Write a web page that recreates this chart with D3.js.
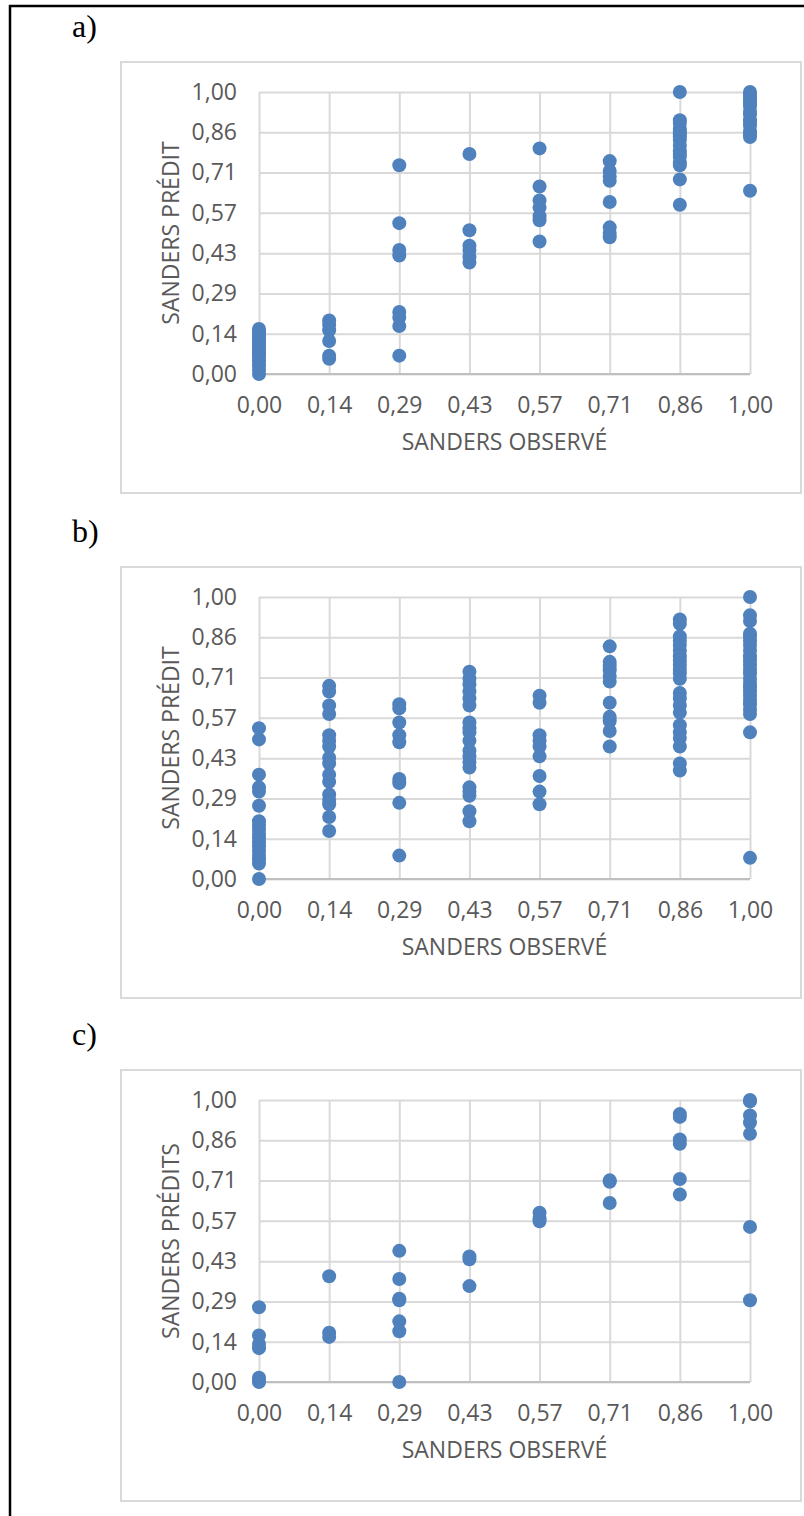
<!DOCTYPE html>
<html>
<head>
<meta charset="utf-8">
<script src="https://cdn.jsdelivr.net/npm/d3@7"></script>
<style>
  body { margin: 0; background: #fff; }
  svg { display: block; }
  .tick-label { font-family: "Open Sans", sans-serif; font-size: 23px; fill: #595959; }
  .axis-title { font-family: "Open Sans", sans-serif; font-size: 23px; fill: #595959; }
  .panel-label { font-family: "Liberation Serif", "Times New Roman", serif; font-size: 32px; fill: #000; }
</style>
</head>
<body>
<svg id="chart" width="804" height="1516"></svg>
<script>
// observed Sanders levels (x) and the tick labels shared by both axes
const levels = [0, 0.1429, 0.2857, 0.4286, 0.5714, 0.7143, 0.8571, 1];
const tickLabels = ["0,00", "0,14", "0,29", "0,43", "0,57", "0,71", "0,86", "1,00"];

// predicted values, one list per observed level
const predA = [
    [0.0, 0.015, 0.03, 0.045, 0.06, 0.07, 0.08, 0.09, 0.10, 0.11, 0.12, 0.13, 0.14, 0.15, 0.16],
    [0.19, 0.175, 0.155, 0.117, 0.065, 0.054],
    [0.74, 0.535, 0.44, 0.42, 0.22, 0.20, 0.17, 0.065],
    [0.78, 0.51, 0.455, 0.44, 0.415, 0.395],
    [0.80, 0.665, 0.615, 0.59, 0.56, 0.545, 0.47],
    [0.755, 0.72, 0.70, 0.685, 0.61, 0.52, 0.50, 0.485],
    [1.0, 0.90, 0.89, 0.87, 0.86, 0.85, 0.84, 0.83, 0.81, 0.79, 0.78, 0.77, 0.75, 0.74, 0.69, 0.60],
    [1.0, 0.99, 0.98, 0.97, 0.96, 0.95, 0.93, 0.92, 0.90, 0.89, 0.88, 0.86, 0.85, 0.84, 0.65]
];

const predB = [
    [0.535, 0.495, 0.37, 0.325, 0.31, 0.26, 0.205, 0.19, 0.175, 0.16, 0.145, 0.13, 0.115, 0.10, 0.085, 0.07, 0.055, 0.0],
    [0.685, 0.665, 0.615, 0.585, 0.51, 0.49, 0.47, 0.43, 0.41, 0.37, 0.345, 0.30, 0.28, 0.265, 0.22, 0.17],
    [0.62, 0.605, 0.555, 0.51, 0.485, 0.355, 0.34, 0.27, 0.083],
    [0.735, 0.71, 0.69, 0.665, 0.64, 0.615, 0.555, 0.535, 0.52, 0.49, 0.455, 0.435, 0.415, 0.395, 0.325, 0.31, 0.295, 0.24, 0.205],
    [0.65, 0.625, 0.51, 0.49, 0.47, 0.435, 0.365, 0.31, 0.265],
    [0.825, 0.77, 0.755, 0.74, 0.72, 0.70, 0.625, 0.575, 0.56, 0.525, 0.47],
    [0.92, 0.905, 0.86, 0.845, 0.83, 0.81, 0.79, 0.775, 0.76, 0.745, 0.73, 0.71, 0.66, 0.64, 0.615, 0.59, 0.545, 0.52, 0.50, 0.47, 0.41, 0.385],
    [1.0, 0.935, 0.915, 0.87, 0.86, 0.845, 0.83, 0.81, 0.79, 0.775, 0.76, 0.745, 0.73, 0.71, 0.695, 0.68, 0.665, 0.65, 0.635, 0.62, 0.60, 0.585, 0.52, 0.075]
];

const predC = [
    [0.265, 0.165, 0.135, 0.12, 0.015, 0.005, 0.0],
    [0.375, 0.175, 0.16],
    [0.465, 0.365, 0.295, 0.29, 0.215, 0.18, 0.0],
    [0.445, 0.435, 0.34],
    [0.60, 0.58, 0.57],
    [0.715, 0.71, 0.635],
    [0.95, 0.94, 0.86, 0.845, 0.72, 0.665],
    [1.0, 0.995, 0.945, 0.92, 0.88, 0.55, 0.29]
];

const panels = [
    { label: "a)", yTitle: "SANDERS PRÉDIT", data: predA, top: 62 },
    { label: "b)", yTitle: "SANDERS PRÉDIT", data: predB, top: 567 },
    { label: "c)", yTitle: "SANDERS PRÉDITS", data: predC, top: 1070 }
];

const svg = d3.select("#chart");

// page frame (left and top edges only are visible)
svg.append("line").attr("x1", 10).attr("x2", 10).attr("y1", 5).attr("y2", 1516)
    .attr("stroke", "#000").attr("stroke-width", 2.5);
svg.append("line").attr("x1", 9).attr("x2", 804).attr("y1", 6).attr("y2", 6)
    .attr("stroke", "#000").attr("stroke-width", 2.5);

const box = { left: 121, width: 680, height: 431 };
const plot = { left: 259, right: 750, top: 30, bottom: 312 };

const x = d3.scaleLinear().domain([0, 1]).range([plot.left, plot.right]);

panels.forEach(p => {
    svg.append("text")
        .attr("class", "panel-label")
        .attr("x", 72)
        .attr("y", p.top - 25)
        .text(p.label);

    const g = svg.append("g").attr("transform", `translate(0,${p.top})`);

    g.append("rect")
        .attr("x", box.left).attr("y", 0)
        .attr("width", box.width).attr("height", box.height)
        .attr("fill", "#fff").attr("stroke", "#d9d9d9").attr("stroke-width", 2);

    const y = d3.scaleLinear().domain([0, 1]).range([plot.bottom, plot.top]);

    // horizontal gridlines + y labels
    const yAxis = d3.axisLeft(y)
        .tickValues(levels)
        .tickFormat((d, i) => tickLabels[i])
        .tickSize(-(plot.right - plot.left))
        .tickPadding(22);
    const ya = g.append("g").attr("transform", `translate(${plot.left},0)`).call(yAxis);
    ya.select(".domain").remove();
    ya.selectAll("line").attr("stroke", "#d9d9d9").attr("stroke-width", 2);
    ya.selectAll("text").attr("class", "tick-label").attr("fill", null);

    // vertical gridlines + x labels
    const xAxis = d3.axisBottom(x)
        .tickValues(levels)
        .tickFormat((d, i) => tickLabels[i])
        .tickSize(-(plot.bottom - plot.top))
        .tickPadding(23);
    const xa = g.append("g").attr("transform", `translate(0,${plot.bottom})`).call(xAxis);
    xa.select(".domain").remove();
    xa.selectAll("line").attr("stroke", "#d9d9d9").attr("stroke-width", 2);
    xa.selectAll("text").attr("class", "tick-label").attr("fill", null);

    // horizontal axis line
    g.append("line")
        .attr("x1", plot.left).attr("x2", plot.right)
        .attr("y1", y(0)).attr("y2", y(0))
        .attr("stroke", "#bfbfbf").attr("stroke-width", 2);

    const pts = p.data.flatMap((vals, i) => vals.map(v => ({ obs: levels[i], pred: v })));
    g.selectAll("circle")
        .data(pts)
        .join("circle")
        .attr("cx", d => x(d.obs))
        .attr("cy", d => y(d.pred))
        .attr("r", 7)
        .attr("fill", "#4f81bd");

    g.append("text")
        .attr("class", "axis-title")
        .attr("text-anchor", "middle")
        .attr("x", (plot.left + plot.right) / 2)
        .attr("y", 388)
        .text("SANDERS OBSERVÉ");

    g.append("text")
        .attr("class", "axis-title")
        .attr("text-anchor", "middle")
        .attr("transform", `translate(179,${(plot.top + plot.bottom) / 2}) rotate(-90)`)
        .text(p.yTitle);
});
</script>
</body>
</html>
